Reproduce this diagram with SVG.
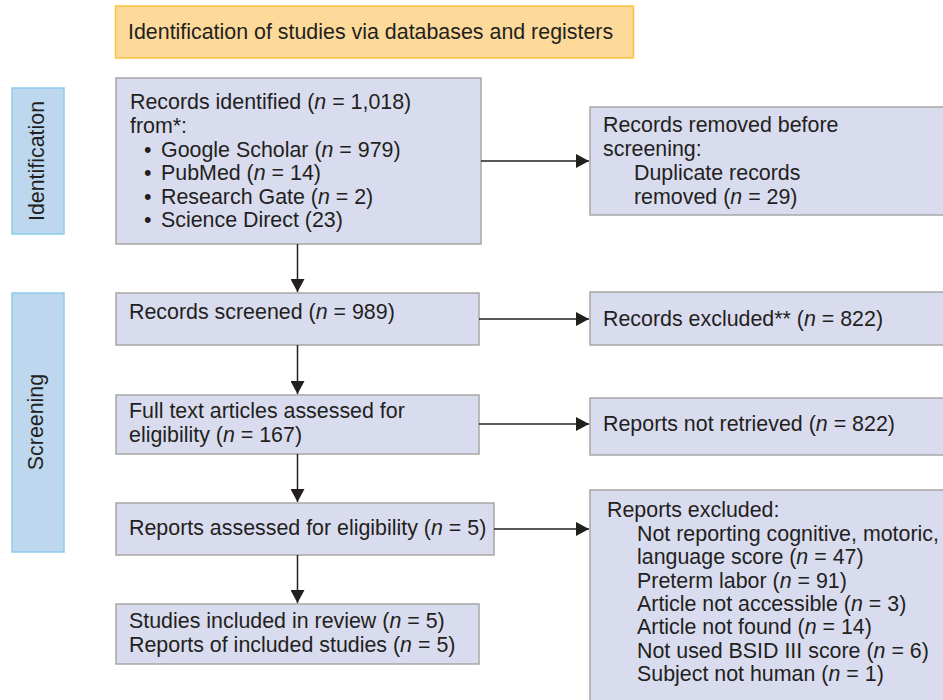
<svg xmlns="http://www.w3.org/2000/svg" width="943" height="700" viewBox="0 0 943 700">
<style>
text{font-family:"Liberation Sans",Arial,sans-serif;font-size:21.4px;fill:#231f20}
.box{fill:#d9dcee;stroke:#a6a6a6;stroke-width:1.5}
.title{fill:#fdda9a;stroke:#f9c23c;stroke-width:1.5}
.side{fill:#bdd7ee;stroke:#8ecbef;stroke-width:1.5}
.con{stroke:#231f20;stroke-width:1.5;fill:none;marker-end:url(#ah)}
</style>
<defs>
<marker id="ah" markerUnits="userSpaceOnUse" markerWidth="14" markerHeight="14" refX="13" refY="7" orient="auto">
<path d="M0,0 L13,7 L0,14 Z" fill="#231f20"/>
</marker>
</defs>
<rect width="943" height="700" fill="#ffffff"/>
<g id="title">
<rect class="title" x="115.5" y="6" width="518" height="52"/>
<text x="128" y="39">Identification of studies via databases and registers</text>
</g>
<g id="side-identification">
<rect class="side" x="12" y="88" width="52" height="146"/>
<text transform="translate(44,161) rotate(-90)" text-anchor="middle">Identification</text>
</g>
<g id="side-screening">
<rect class="side" x="12" y="293" width="52" height="259"/>
<text transform="translate(43,422) rotate(-90)" text-anchor="middle">Screening</text>
</g>
<g id="records-identified">
<rect class="box" x="116" y="78" width="365" height="166"/>
<text x="130" y="109">Records identified (<tspan font-style="italic">n</tspan> = 1,018)</text>
<text x="130" y="133">from*:</text>
<text x="144" y="157">•</text><text x="161" y="157">Google Scholar (<tspan font-style="italic">n</tspan> = 979)</text>
<text x="144" y="180">•</text><text x="161" y="180">PubMed (<tspan font-style="italic">n</tspan> = 14)</text>
<text x="144" y="204">•</text><text x="161" y="204">Research Gate (<tspan font-style="italic">n</tspan> = 2)</text>
<text x="144" y="227">•</text><text x="161" y="227">Science Direct (23)</text>
</g>
<g id="records-removed">
<rect class="box" x="590" y="107" width="360" height="108"/>
<text x="603" y="132">Records removed before</text>
<text x="603" y="156">screening:</text>
<text x="634" y="180">Duplicate records</text>
<text x="634" y="204">removed (<tspan font-style="italic">n</tspan> = 29)</text>
</g>
<g id="records-screened">
<rect class="box" x="116" y="293" width="363" height="52"/>
<text x="129" y="319">Records screened (<tspan font-style="italic">n</tspan> = 989)</text>
</g>
<g id="records-excluded">
<rect class="box" x="590" y="292" width="360" height="53"/>
<text x="603" y="326">Records excluded** (<tspan font-style="italic">n</tspan> = 822)</text>
</g>
<g id="full-text">
<rect class="box" x="116" y="395" width="363" height="59"/>
<text x="129" y="418">Full text articles assessed for</text>
<text x="129" y="442">eligibility (<tspan font-style="italic">n</tspan> = 167)</text>
</g>
<g id="reports-not-retrieved">
<rect class="box" x="590" y="398" width="360" height="57"/>
<text x="603" y="431">Reports not retrieved (<tspan font-style="italic">n</tspan> = 822)</text>
</g>
<g id="reports-assessed">
<rect class="box" x="116" y="503" width="378" height="52"/>
<text x="129" y="535">Reports assessed for eligibility (<tspan font-style="italic">n</tspan> = 5)</text>
</g>
<g id="reports-excluded">
<rect class="box" x="590" y="490" width="360" height="220"/>
<text x="607" y="517">Reports excluded:</text>
<text x="637" y="541">Not reporting cognitive, motoric,</text>
<text x="637" y="564">language score (<tspan font-style="italic">n</tspan> = 47)</text>
<text x="637" y="588">Preterm labor (<tspan font-style="italic">n</tspan> = 91)</text>
<text x="637" y="611">Article not accessible (<tspan font-style="italic">n</tspan> = 3)</text>
<text x="637" y="634">Article not found (<tspan font-style="italic">n</tspan> = 14)</text>
<text x="637" y="658">Not used BSID III score (<tspan font-style="italic">n</tspan> = 6)</text>
<text x="637" y="681">Subject not human (<tspan font-style="italic">n</tspan> = 1)</text>
</g>
<g id="studies-included">
<rect class="box" x="116" y="604" width="363" height="60"/>
<text x="129" y="628">Studies included in review (<tspan font-style="italic">n</tspan> = 5)</text>
<text x="129" y="652">Reports of included studies (<tspan font-style="italic">n</tspan> = 5)</text>
</g>
<g id="connectors">
<line class="con" x1="481" y1="161" x2="589" y2="161"/>
<line class="con" x1="479" y1="319" x2="589" y2="319"/>
<line class="con" x1="479" y1="424" x2="589" y2="424"/>
<line class="con" x1="494" y1="529" x2="589" y2="529"/>
<line class="con" x1="297.5" y1="244" x2="297.5" y2="292"/>
<line class="con" x1="297.5" y1="345" x2="297.5" y2="394"/>
<line class="con" x1="297.5" y1="454" x2="297.5" y2="502"/>
<line class="con" x1="297.5" y1="555" x2="297.5" y2="603"/>
</g>
</svg>
